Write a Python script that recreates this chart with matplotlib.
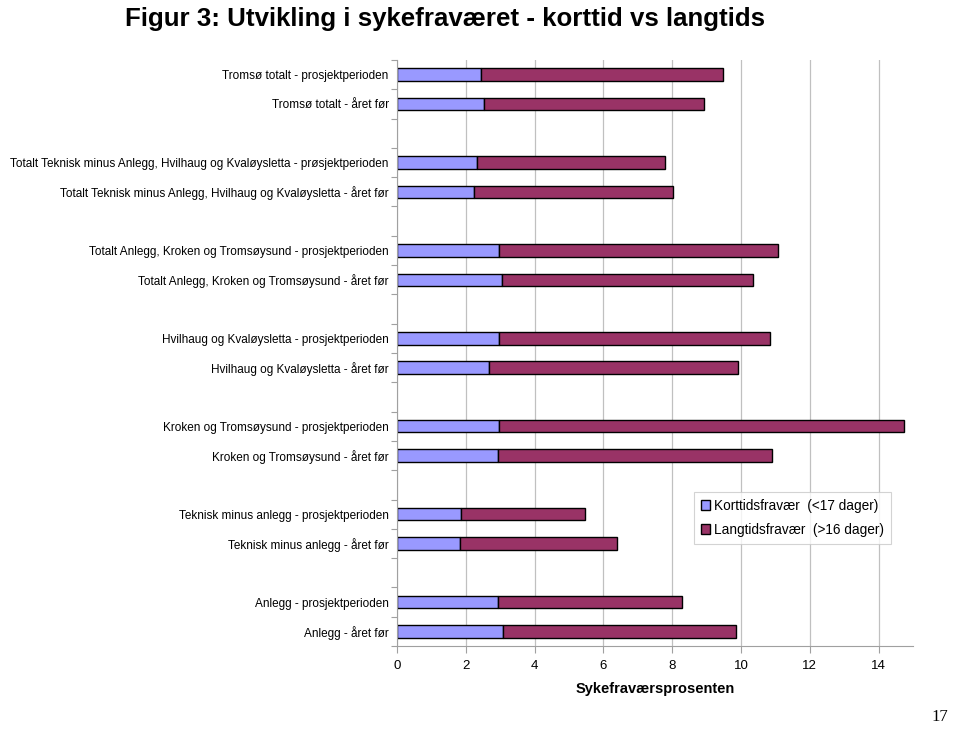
import numpy as np
import matplotlib.pyplot as plt

# Row labels top to bottom ('' = blank spacer row)
labels = [
    'Tromsø totalt - prosjektperioden',
    'Tromsø totalt - året før',
    '',
    'Totalt Teknisk minus Anlegg, Hvilhaug og Kvaløysletta - prøsjektperioden',
    'Totalt Teknisk minus Anlegg, Hvilhaug og Kvaløysletta - året før',
    '',
    'Totalt Anlegg, Kroken og Tromsøysund - prosjektperioden',
    'Totalt Anlegg, Kroken og Tromsøysund - året før',
    '',
    'Hvilhaug og Kvaløysletta - prosjektperioden',
    'Hvilhaug og Kvaløysletta - året før',
    '',
    'Kroken og Tromsøysund - prosjektperioden',
    'Kroken og Tromsøysund - året før',
    '',
    'Teknisk minus anlegg - prosjektperioden',
    'Teknisk minus anlegg - året før',
    '',
    'Anlegg - prosjektperioden',
    'Anlegg - året før',
]

# Short-term absence (%) and total absence (%), NaN for spacer rows
korttid = [2.44, 2.53, np.nan, 2.32, 2.24, np.nan, 2.96, 3.05, np.nan,
           2.96, 2.67, np.nan, 2.96, 2.93, np.nan, 1.86, 1.83, np.nan,
           2.93, 3.08]
totalt = [9.47, 8.92, np.nan, 7.78, 8.02, np.nan, 11.07, 10.34, np.nan,
          10.83, 9.90, np.nan, 14.73, 10.89, np.nan, 5.46, 6.39, np.nan,
          8.28, 9.85]

korttid = np.array(korttid)
langtid = np.array(totalt) - korttid

plt.rcParams['font.family'] = ['Liberation Sans', 'DejaVu Sans']

fig = plt.figure(figsize=(9.6, 7.32), dpi=100)
ax = fig.add_axes([397 / 960, 1 - 646 / 732, 516 / 960, 586 / 732])

y = np.arange(len(labels))
mask = ~np.isnan(korttid)
ax.barh(y[mask], korttid[mask], height=0.42, color='#9999ff',
        edgecolor='black', linewidth=1.0, label='Korttidsfravær  (<17 dager)')
ax.barh(y[mask], langtid[mask], left=korttid[mask], height=0.42,
        color='#993366', edgecolor='black', linewidth=1.0,
        label='Langtidsfravær  (>16 dager)')

ax.set_ylim(len(labels) - 0.5, -0.5)
ax.set_xlim(0, 15)
ax.set_xticks(np.arange(0, 15, 2))
ax.set_yticks(np.arange(-0.5, len(labels), 1))
ax.set_yticklabels([])
ax.set_yticks(y, minor=True)
ax.set_yticklabels(labels, minor=True, fontsize=8.5)
ax.tick_params(axis='y', which='minor', length=0, pad=6)
ax.tick_params(axis='y', which='major', length=4, color='#a0a0a0')
ax.tick_params(axis='x', length=5, color='#a0a0a0', labelsize=9.5, pad=5)

ax.xaxis.grid(True, color='#c0c0c0', linewidth=0.9)
ax.set_axisbelow(True)
for side in ['top', 'right']:
    ax.spines[side].set_visible(False)
for side in ['left', 'bottom']:
    ax.spines[side].set_color('#a0a0a0')

ax.set_xlabel('Sykefraværsprosenten', fontsize=10.5, fontweight='bold', labelpad=7)

leg = ax.legend(loc='upper left', bbox_to_anchor=(0.5756, 0.263), fontsize=9.8,
                frameon=True, fancybox=False, handlelength=0.7, handleheight=0.7,
                handletextpad=0.3, borderpad=0.5, labelspacing=0.75,
                borderaxespad=0)
leg.get_frame().set_edgecolor('#c8c8c8')
leg.get_frame().set_linewidth(0.8)

fig.text(0.4635, 0.99, 'Figur 3: Utvikling i sykefraværet - korttid vs langtids',
         ha='center', va='top', fontsize=18.6, fontweight='bold')
fig.text(0.988, 0.01, '17', ha='right', va='bottom', fontsize=12,
         family=['Liberation Serif', 'DejaVu Serif'])

fig.savefig('out.png', dpi=100)
